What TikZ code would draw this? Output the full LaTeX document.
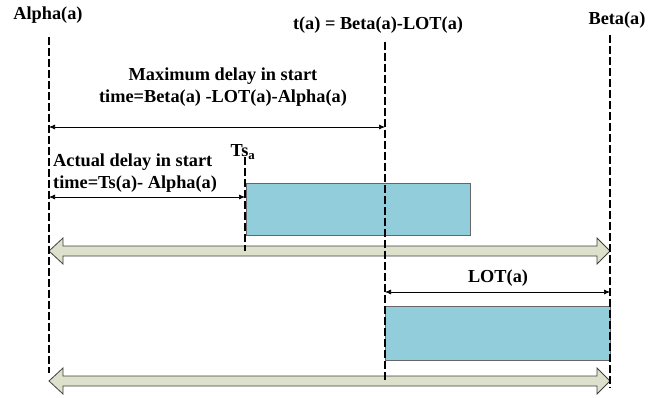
\documentclass[tikz,border=0pt]{standalone}
\usepackage{fontspec}
\setmainfont{Liberation Serif}
\usetikzlibrary{arrows.meta}

\definecolor{taskblue}{RGB}{146,205,220}
\definecolor{barfill}{RGB}{221,225,203}

\tikzset{
  marker/.style={line width=1.6pt, dash pattern=on 8pt off 3pt},
  span/.style={{Latex[length=6pt,width=5pt]}-{Latex[length=6pt,width=5pt]}, line width=0.7pt},
  taskbox/.style={fill=taskblue, draw=black!60, line width=0.6pt},
  timebar/.style={fill=barfill, draw=black!75, line width=0.8pt},
  lbl/.style={font=\fontsize{18.3}{21.5}\selectfont\bfseries, inner sep=0pt},
}

\begin{document}
\begin{tikzpicture}[x=1pt,y=-1pt]
        \useasboundingbox (0,0) rectangle (664,397);

        % Time marks
        \coordinate (alphaT) at (49,37);
        \coordinate (alphaB) at (49,373);
        \coordinate (tT) at (385,42);
        \coordinate (tB) at (385,380);
        \coordinate (betaT) at (610,35);
        \coordinate (betaB) at (610,388);
        \coordinate (tsT) at (245,157);
        \coordinate (tsB) at (245,251);

        % Labels at the top
        \node[lbl] (alpha) at (48,15) {Alpha(a)};
        \node[lbl] (ta) at (378,25) {t(a) = Beta(a)-LOT(a)};
        \node[lbl] (beta) at (617,20) {Beta(a)};

        % Task boxes
        \draw[taskbox] (246,183) rectangle (470,235);
        \draw[taskbox] (385,306) rectangle (610,360);

        % Time bars (double arrows)
        \foreach \y in {251,381} {
          \draw[timebar] (49,\y) -- (63,\y-13) -- (63,\y-5) -- (597,\y-5)
            -- (597,\y-13) -- (610,\y) -- (597,\y+13) -- (597,\y+5)
            -- (63,\y+5) -- (63,\y+13) -- cycle;
        }

        % Dashed time marks
        \draw[marker] (alphaT) -- (alphaB);
        \draw[marker] (tT) -- (tB);
        \draw[marker] (betaT) -- (betaB);
        \draw[marker] (tsT) -- (tsB);

        % Maximum delay
        \node[lbl, align=center] (maxd) at (223,87) {Maximum delay in start\\time=Beta(a) -LOT(a)-Alpha(a)};
        \coordinate (maxL) at (49,127);
        \coordinate (maxR) at (385,127);
        \draw[span] (maxL) -- (maxR);

        % Actual delay
        \node[lbl, align=left, anchor=west] (actd) at (53,173) {Actual delay in start\\time=Ts(a)- Alpha(a)};
        \node[lbl] (ts) at (243,152) {Ts\textsubscript{a}};
        \coordinate (actL) at (49,197);
        \coordinate (actR) at (245,197);
        \draw[span] (actL) -- (actR);

        % LOT
        \node[lbl] (lot) at (498,278) {LOT(a)};
        \coordinate (lotL) at (385,292);
        \coordinate (lotR) at (610,292);
        \draw[span] (lotL) -- (lotR);
\end{tikzpicture}
\end{document}
